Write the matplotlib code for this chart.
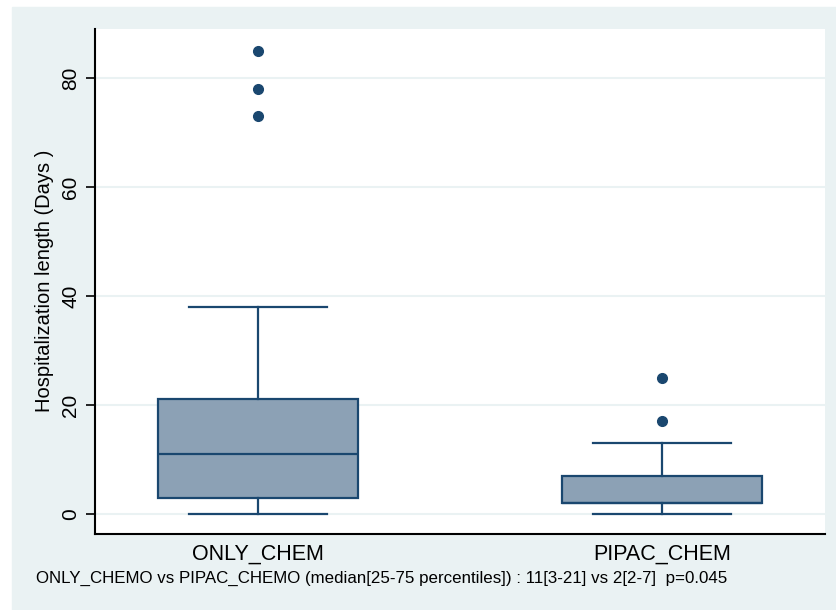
import matplotlib
matplotlib.use("Agg")
from matplotlib import pyplot as plt
from matplotlib.patches import Rectangle

plt.rcParams['font.family'] = ['Liberation Sans', 'DejaVu Sans']

# hospital stay (days) per group: whiskers, quartiles, median, outliers
groups = ["ONLY_CHEM", "PIPAC_CHEM"]
whisker_low = [0, 0]
q1 = [3, 2]
median = [11, 2]
q3 = [21, 7]
whisker_high = [38, 13]
outliers = [[73, 78, 85], [17, 25]]
yticks = [0, 20, 40, 60, 80]
note = "ONLY_CHEMO vs PIPAC_CHEMO (median[25-75 percentiles]) : 11[3-21] vs 2[2-7]  p=0.045"

navy = "#1a476f"
fill = "#8ca1b5"
bg = "#eaf2f3"

W, H = 836, 610
fig = plt.figure(figsize=(W / 100, H / 100), dpi=100)
fig.patches.append(Rectangle((12 / W, 0), 1 - 12 / W, 1 - 7 / H,
                             transform=fig.transFigure, color=bg, zorder=-10))

ax = fig.add_axes([95 / W, (H - 534) / H, 730 / W, 505 / H])

stats = []
for i in range(len(groups)):
    stats.append(dict(label=groups[i], whislo=whisker_low[i], q1=q1[i], med=median[i],
                      q3=q3[i], whishi=whisker_high[i], fliers=outliers[i]))

ax.bxp(stats, positions=[1, 2], widths=0.495, patch_artist=True, capwidths=0.34,
       boxprops=dict(facecolor=fill, edgecolor=navy, linewidth=1.6),
       medianprops=dict(color=navy, linewidth=1.6),
       whiskerprops=dict(color=navy, linewidth=1.6),
       capprops=dict(color=navy, linewidth=1.6),
       flierprops=dict(marker='o', markerfacecolor=navy, markeredgecolor=navy, markersize=7))

ax.set_xlim(0.597, 2.403)
ax.set_ylim(-3.7, 89)
ax.set_yticks(yticks)
ax.set_yticklabels([str(t) for t in yticks], rotation=90, va='center', fontsize=15)
ax.tick_params(axis='y', length=6.5, width=1.2, pad=4, colors='black')
ax.tick_params(axis='x', length=0, labelsize=15.5, pad=7)
ax.yaxis.grid(True, color=bg, linewidth=1.5)
ax.set_axisbelow(True)
for s in ['top', 'right']:
    ax.spines[s].set_visible(False)
for s in ['left', 'bottom']:
    ax.spines[s].set_linewidth(1.5)
    ax.spines[s].set_color('black')

fig.text(45 / W, 1 - 281 / H, "Hospitalization length (Days )", rotation=90,
         ha='center', va='center', fontsize=14.5)
fig.text(36 / W, 1 - 578 / H, note, ha='left', va='center', fontsize=12.2)

fig.savefig("out.png", dpi=100)
